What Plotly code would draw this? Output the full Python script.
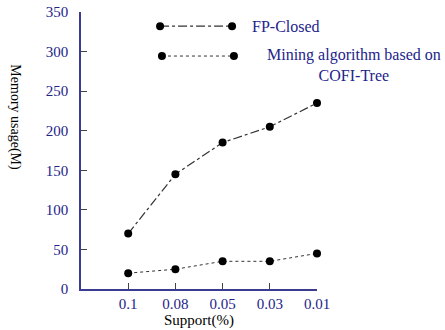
import plotly.graph_objects as go

support = ["0.1", "0.08", "0.05", "0.03", "0.01"]
fp_closed = [70, 145, 185, 205, 235]
cofi_tree = [20, 25, 35, 35, 45]
y_ticks = [0, 50, 100, 150, 200, 250, 300, 350]

NAVY = "#23238a"
AXIS = "#3b3b92"
FONT = "Liberation Serif"

xpos = list(range(1, len(support) + 1))

fig = go.Figure()
fig.add_trace(go.Scatter(x=xpos, y=fp_closed, mode="lines+markers",
                         line=dict(color="#333333", width=1.2, dash="dashdot"),
                         marker=dict(color="black", size=8), cliponaxis=False,
                         showlegend=False))
fig.add_trace(go.Scatter(x=xpos, y=cofi_tree, mode="lines+markers",
                         line=dict(color="#333333", width=1, dash="dot"),
                         marker=dict(color="black", size=8), cliponaxis=False,
                         showlegend=False))

# legend samples on hidden overlay axes (paper-like coordinates)
fig.add_trace(go.Scatter(x=[0.335, 0.64], y=[0.949, 0.949], mode="lines+markers",
                         line=dict(color="#333333", width=1.2, dash="dashdot"),
                         marker=dict(color="black", size=8), cliponaxis=False,
                         xaxis="x2", yaxis="y2", showlegend=False, hoverinfo="skip"))
fig.add_trace(go.Scatter(x=[0.343, 0.648], y=[0.841, 0.841], mode="lines+markers",
                         line=dict(color="#333333", width=1, dash="dot"),
                         marker=dict(color="black", size=8), cliponaxis=False,
                         xaxis="x2", yaxis="y2", showlegend=False, hoverinfo="skip"))

fig.update_layout(
    width=445, height=330,
    margin=dict(l=81, r=128, t=12, b=41, autoexpand=False),
    paper_bgcolor="white", plot_bgcolor="white",
    font=dict(family=FONT, size=15, color=NAVY),
    xaxis=dict(range=[0, 5], tickmode="array", tickvals=xpos, ticktext=support,
               showgrid=False, zeroline=False, showline=True, linecolor=AXIS, linewidth=1.5,
               ticks="inside", ticklen=6, tickcolor="#444444", automargin=False,
               tickfont=dict(family=FONT, size=15, color=NAVY),
               title=dict(text="Support(%)", font=dict(family=FONT, size=15, color="black"),
                          standoff=4)),
    yaxis=dict(range=[0, 350], tickmode="array", tickvals=y_ticks,
               showgrid=False, zeroline=False, showline=True, linecolor=AXIS, linewidth=1.5,
               ticks="inside", ticklen=6, tickcolor="#444444", automargin=False,
               tickfont=dict(family=FONT, size=15, color=NAVY), ticklabelstandoff=8),
    xaxis2=dict(range=[0, 1], overlaying="x", visible=False),
    yaxis2=dict(range=[0, 1], overlaying="y", visible=False),
    annotations=[
        dict(text="Memory usage(M)", textangle=90, xref="paper", yref="paper",
             x=-0.28, y=0.62, xanchor="center", yanchor="middle", showarrow=False,
             font=dict(family=FONT, size=14, color="black")),
        dict(text="FP-Closed", xref="paper", yref="paper", x=0.716, y=0.949,
             xanchor="left", yanchor="middle", showarrow=False,
             font=dict(family=FONT, size=16, color=NAVY)),
        dict(text="Mining algorithm based on<br>COFI-Tree", xref="paper", yref="paper",
             x=1.157, y=0.809, xanchor="center", yanchor="middle", align="center",
             showarrow=False, font=dict(family=FONT, size=16, color=NAVY)),
    ],
)

fig.write_html("out.html", config={"displayModeBar": False},
               post_script="document.body.style.margin='0px';")
